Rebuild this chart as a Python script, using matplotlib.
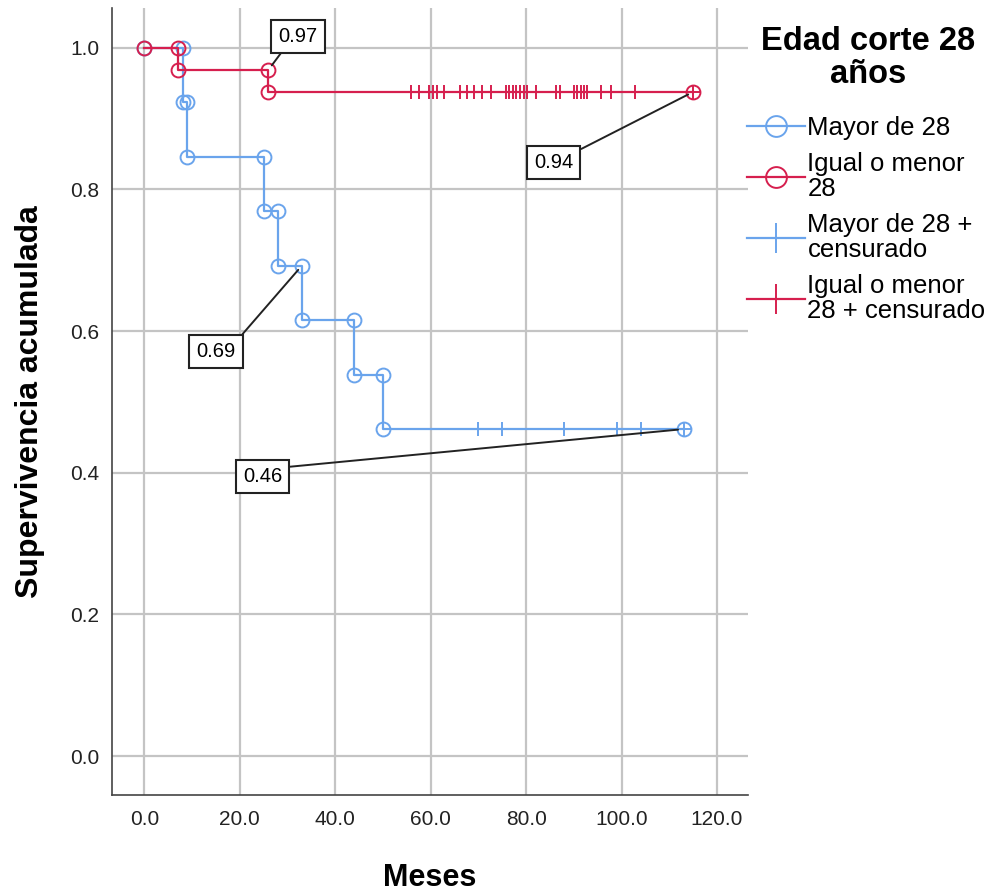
import numpy as np
import matplotlib
matplotlib.use("Agg")
import matplotlib.pyplot as plt
from matplotlib.lines import Line2D

plt.rcParams['font.family'] = ['Liberation Sans', 'DejaVu Sans']

# --- datos (meses) ---
groups = ["Mayor de 28", "Igual o menor\n28"]
cens_labels = ["Mayor de 28 +\ncensurado", "Igual o menor\n28 + censurado"]
colors = ["#6aa4ec", "#d61f4e"]

n_mayor = 13
ev_mayor = [8, 9, 25, 28, 33, 44, 50]
cens_mayor = [70, 75, 88, 99, 104, 113]

n_menor = 32
ev_menor = [7, 26]
cens_menor = [55.9, 57.5, 59.6, 60.5, 61.3, 62.8, 66.1, 67.6, 69.1, 70.7,
              72.6, 75.8, 76.4, 77.3, 77.9, 78.8, 79.6, 80.2, 82.1, 86.3,
              87.1, 90.0, 90.7, 91.5, 92.1, 92.8, 95.7, 97.8, 102.8, 115.0]

# etiquetas de la curva
labels_txt = ["0.97", "0.94", "0.69", "0.46"]
label_pt = [(26, 31 / 32), (115, 30 / 32), (33, 9 / 13), (113, 6 / 13)]
label_box = [(32.2, 1.016), (85.8, 0.838), (15.0, 0.571), (24.8, 0.394)]
label_rel = [(0.2, 0.0), (1.0, 1.0), (1.0, 1.0), (1.0, 1.0)]


def km_steps(n, events, censored):
    # vertices of the Kaplan-Meier step curve and survival at censored times
    all_t = np.array(sorted(events + censored))
    ev = sorted(events)
    xs, ys = [0.0], [1.0]
    s = 1.0
    surv_at = []
    for t in ev:
        at_risk = n - np.sum(all_t < t)
        xs.append(t); ys.append(s)
        s = s * (at_risk - 1) / at_risk
        xs.append(t); ys.append(s)
        surv_at.append((t, s))
    xs.append(max(censored)); ys.append(s)
    cy = []
    for c in censored:
        sc = 1.0
        for t, v in surv_at:
            if t <= c:
                sc = v
        cy.append(sc)
    return np.array(xs), np.array(ys), np.array(censored), np.array(cy)


fig = plt.figure(figsize=(9.92, 8.96), dpi=100)
ax = fig.add_axes([112 / 992, 101 / 896, 636 / 992, 787 / 896])

data = [(n_mayor, ev_mayor, cens_mayor), (n_menor, ev_menor, cens_menor)]
for (n, ev, ce), col in zip(data, colors):
    xs, ys, cx, cy = km_steps(n, ev, ce)
    ax.plot(xs, ys, color=col, lw=1.6, marker='o', ms=10, mfc='none',
            mec=col, mew=1.4, zorder=3)
    ax.plot(cx, cy, ls='none', marker='+', ms=10, mec=col, mew=1.4, zorder=3)

for txt, pt, box, rel in zip(labels_txt, label_pt, label_box, label_rel):
    ax.annotate(txt, xy=pt, xytext=box, ha='center', va='center',
                fontsize=14.5, zorder=5,
                bbox=dict(boxstyle='square,pad=0.35', fc='white', ec='#222222', lw=1.5),
                arrowprops=dict(arrowstyle='-', color='#222222', lw=1.4,
                                relpos=rel, shrinkA=0, shrinkB=4))

ax.set_xlim(-6.8, 126.5)
ax.set_ylim(-0.055, 1.056)
ax.set_xticks(np.arange(0, 121, 20))
ax.set_yticks(np.arange(0, 1.01, 0.2))
ax.set_xticklabels([f"{v:.1f}" for v in np.arange(0, 121, 20)])
ax.set_yticklabels([f"{v:.1f}" for v in np.arange(0, 1.01, 0.2)])
ax.grid(True, color='#c4c4c4', lw=1.6)
ax.set_axisbelow(True)
for side in ['top', 'right']:
    ax.spines[side].set_visible(False)
for side in ['left', 'bottom']:
    ax.spines[side].set_color('#444444')
    ax.spines[side].set_linewidth(1.2)
ax.tick_params(length=0, labelsize=15, colors='#222222')
ax.tick_params(axis='y', pad=9)
ax.tick_params(axis='x', pad=11)

ax.set_xlabel("Meses", fontsize=22, fontweight='bold', labelpad=24)
ax.set_ylabel("Supervivencia acumulada", fontsize=23, fontweight='bold', labelpad=18)

fig.text(868 / 992, 1 - 58 / 896, "Edad corte 28\naños", ha='center', va='center',
         fontsize=23.5, fontweight='bold', linespacing=1.1)

handles = [
    Line2D([], [], color=colors[0], lw=1.6, marker='o', ms=15, mfc='none', mew=1.4),
    Line2D([], [], color=colors[1], lw=1.6, marker='o', ms=15, mfc='none', mew=1.4),
    Line2D([], [], color=colors[0], lw=1.6, marker='+', ms=22, mew=1.4),
    Line2D([], [], color=colors[1], lw=1.6, marker='+', ms=22, mew=1.4),
]
leg = ax.legend(handles, groups + cens_labels, loc='upper left',
                bbox_to_anchor=(747 / 992, 1 - 116 / 896), bbox_transform=fig.transFigure,
                frameon=False, fontsize=18.5,
                handlelength=2.25, handletextpad=0.1, labelspacing=0.45,
                borderaxespad=0, borderpad=0)
for t in leg.get_texts():
    t.set_linespacing(1.08)

fig.savefig("out.png", dpi=100)
